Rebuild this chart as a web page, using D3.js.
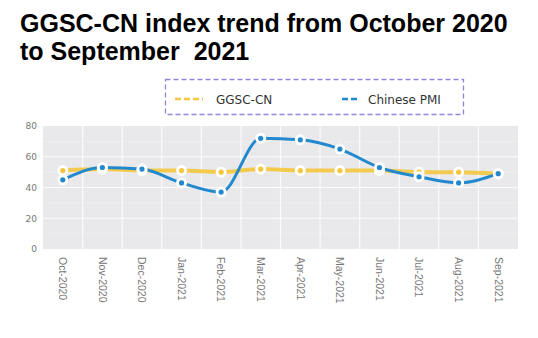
<!DOCTYPE html>
<html><head><meta charset="utf-8">
<script src="https://cdn.jsdelivr.net/npm/d3@7"></script>
<style>body{margin:0;background:#fff}svg{display:block}</style>
</head><body>
<svg id="c" width="538" height="338"></svg>
<script>
const months = ["Oct-2020","Nov-2020","Dec-2020","Jan-2021","Feb-2021","Mar-2021","Apr-2021","May-2021","Jun-2021","Jul-2021","Aug-2021","Sep-2021"];
const ggsc = [51, 52, 51, 51, 50, 52, 51, 51, 51, 50, 50, 49];
const pmi  = [45, 53, 52, 43, 37, 72, 71, 65, 53, 47, 43, 49];
const yTicks = [0, 20, 40, 60, 80];
const seriesNames = ["GGSC-CN", "Chinese PMI"];
const colors = ["#f4c63d", "#2389cf"];

const svg = d3.select("#c");
const plot = {l: 43, r: 518, t: 126, b: 249};

// title
const title = svg.append("g").attr("font-family","'Liberation Sans', Arial, sans-serif").attr("font-weight","bold").attr("font-size","25px").attr("fill","#000");
title.append("text").attr("x",20).attr("y",32).text("GGSC-CN index trend from October 2020");
title.append("text").attr("x",20).attr("y",60).style("white-space","pre").text("to September  2021");

const x = d3.scaleBand().domain(months).range([plot.l, plot.r]);
const y = d3.scaleLinear().domain([0, 80]).range([plot.b, plot.t]);
const cx = d => x(d) + x.bandwidth()/2;

svg.append("rect").attr("x",plot.l).attr("y",plot.t).attr("width",plot.r-plot.l).attr("height",plot.b-plot.t).attr("fill","#e9e9eb");

// minor grid
svg.append("g").selectAll("line").data(d3.range(10,80,20)).join("line")
  .attr("x1",plot.l).attr("x2",plot.r).attr("y1",d=>y(d)).attr("y2",d=>y(d))
  .attr("stroke","#f4f4f4").attr("stroke-width",0.6);
// major grid
svg.append("g").selectAll("line").data(yTicks.slice(1,4)).join("line")
  .attr("x1",plot.l).attr("x2",plot.r).attr("y1",d=>y(d)).attr("y2",d=>y(d))
  .attr("stroke","#fbfbfb").attr("stroke-width",1.2);
svg.append("g").selectAll("line").data(months.slice(1)).join("line")
  .attr("x1",d=>x(d)).attr("x2",d=>x(d)).attr("y1",plot.t).attr("y2",plot.b)
  .attr("stroke","#fbfbfb").attr("stroke-width",1.2);

// y axis
const yAxis = svg.append("g").attr("transform",`translate(${plot.l-6},0)`)
  .call(d3.axisLeft(y).tickValues(yTicks).tickSize(0).tickPadding(0));
yAxis.select(".domain").remove();
yAxis.selectAll("text").attr("font-family","'DejaVu Sans', sans-serif").attr("font-size","9px").attr("fill","#777");

// x axis
const xAxis = svg.append("g").attr("transform",`translate(0,${plot.b})`)
  .call(d3.axisBottom(x).tickSize(0));
xAxis.select(".domain").remove();
xAxis.selectAll("text").attr("font-family","'Liberation Sans', Arial, sans-serif").attr("font-size","10.5px").attr("fill","#777")
  .attr("transform","rotate(90)").attr("text-anchor","start").attr("x",8).attr("y",0).attr("dy","0.35em");

// lines
const line = d3.line().x((d,i)=>cx(months[i])).y(d=>y(d)).curve(d3.curveMonotoneX);
svg.append("path").datum(ggsc).attr("d",line).attr("fill","none").attr("stroke",colors[0]).attr("stroke-width",4).attr("opacity",0.9);
svg.append("path").datum(pmi).attr("d",line).attr("fill","none").attr("stroke",colors[1]).attr("stroke-width",3);

[ggsc, pmi].forEach((s, k) => {
  const g = svg.append("g");
  g.selectAll("circle.o").data(s).join("circle").attr("class","o")
    .attr("cx",(d,i)=>cx(months[i])).attr("cy",d=>y(d)).attr("r",5.5).attr("fill","#fff");
  g.selectAll("circle.i").data(s).join("circle").attr("class","i")
    .attr("cx",(d,i)=>cx(months[i])).attr("cy",d=>y(d)).attr("r",2.6).attr("fill",colors[k]);
});

// legend
const lg = svg.append("g");
lg.append("rect").attr("x",165.5).attr("y",79.5).attr("width",298).attr("height",35)
  .attr("fill","#fff").attr("stroke","#8f86d6").attr("stroke-width",1.3).attr("stroke-dasharray","5,3");
const items = [{sx:175, sw:28, tx:216}, {sx:342, sw:16, tx:368}];
items.forEach((it, k) => {
  lg.append("line").attr("x1",it.sx).attr("x2",it.sx+it.sw).attr("y1",99).attr("y2",99)
    .attr("stroke",colors[k]).attr("stroke-width",2.5).attr("stroke-dasharray","6,3");
  lg.append("text").attr("x",it.tx).attr("y",103.5).attr("font-family","'DejaVu Sans', sans-serif")
    .attr("font-size","12px").attr("fill","#333").text(seriesNames[k]);
});
</script>
</body></html>
